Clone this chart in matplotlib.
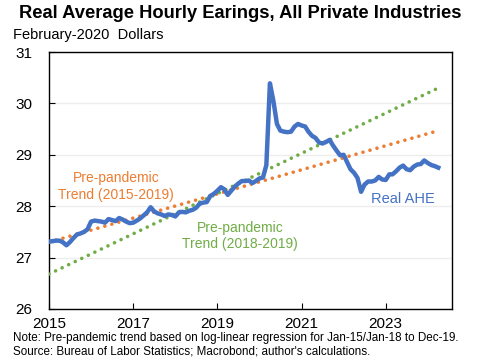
"""Real average hourly earnings vs pre-pandemic trends."""

import matplotlib
matplotlib.use("Agg")
import matplotlib.dates as mdates
import matplotlib.pyplot as plt
import pandas as pd

plt.rcParams["font.family"] = ["Liberation Sans", "DejaVu Sans"]

BLUE = "#4472C4"
ORANGE = "#ED7D31"
GREEN = "#70AD47"

# monthly, Jan-2015 .. Apr-2024, Feb-2020 dollars
months = pd.date_range("2015-01-01", "2024-04-01", freq="MS")
real_ahe = [
    27.31, 27.32, 27.33, 27.33, 27.30, 27.24, 27.30, 27.38, 27.45, 27.47, 27.50, 27.55,
    27.70, 27.72, 27.71, 27.70, 27.68, 27.75, 27.73, 27.71, 27.77, 27.74, 27.70, 27.67,
    27.68, 27.72, 27.76, 27.82, 27.88, 27.98, 27.90, 27.86, 27.84, 27.81, 27.84, 27.83,
    27.80, 27.88, 27.89, 27.88, 27.91, 27.93, 27.97, 28.05, 28.07, 28.08, 28.20, 28.24,
    28.30, 28.37, 28.33, 28.22, 28.30, 28.38, 28.44, 28.49, 28.49, 28.50, 28.45, 28.49,
    28.54, 28.56, 28.80, 30.39, 30.05, 29.60, 29.47, 29.45, 29.44, 29.45, 29.55, 29.60,
    29.57, 29.55, 29.45, 29.37, 29.33, 29.24, 29.22, 29.25, 29.29, 29.18, 29.08, 28.99,
    29.00, 28.85, 28.72, 28.65, 28.55, 28.28, 28.42, 28.48, 28.48, 28.50, 28.57, 28.52,
    28.51, 28.62, 28.62, 28.68, 28.75, 28.79, 28.72, 28.70, 28.77, 28.81, 28.82, 28.89,
    28.84, 28.80, 28.78, 28.75,
]

trend_dates = pd.to_datetime(["2015-01-01", "2024-04-01"])
trend_2015_2019 = [27.30, 29.47]
trend_2018_2019 = [26.68, 30.30]

tick_years = [2015, 2017, 2019, 2021, 2023]

fig = plt.figure(figsize=(4.8, 3.61), dpi=100)
ax = fig.add_axes([49 / 480, 1 - 309 / 361, 403 / 480, 257 / 361])

dots = dict(linestyle=(0, (0.01, 2.0)), linewidth=2.6, dash_capstyle="round")
ax.plot(trend_dates, trend_2015_2019, color=ORANGE, **dots, zorder=3)
ax.plot(trend_dates, trend_2018_2019, color=GREEN, **dots, zorder=3)
ax.plot(months, real_ahe, color=BLUE, linewidth=3.2, solid_joinstyle="round", zorder=4)

ax.set_xlim(pd.Timestamp("2015-01-01"), pd.Timestamp("2024-07-29"))
ax.set_ylim(26, 31)
ax.set_yticks(range(26, 32))
ax.set_xticks([pd.Timestamp(f"{y}-01-01") for y in tick_years])
ax.xaxis.set_major_formatter(mdates.DateFormatter("%Y"))
ax.grid(axis="y", color="#EDEDED", linewidth=1.0)
ax.set_axisbelow(True)
ax.tick_params(direction="in", length=4, width=0.8, labelsize=11, colors="black")
ax.tick_params(axis="y", pad=12)
ax.tick_params(axis="x", pad=6)
for s in ax.spines.values():
    s.set_linewidth(1.0)
    s.set_color("black")

ax.text(0.166, 0.477, "Pre-pandemic\nTrend (2015-2019)", transform=ax.transAxes,
        color=ORANGE, fontsize=10, ha="center", va="center", linespacing=1.25)
ax.text(0.474, 0.284, "Pre-pandemic\nTrend (2018-2019)", transform=ax.transAxes,
        color=GREEN, fontsize=10, ha="center", va="center", linespacing=1.25)
ax.text(0.877, 0.428, "Real AHE", transform=ax.transAxes,
        color=BLUE, fontsize=10.5, ha="center", va="center")

fig.text(0.5, 1 - 14 / 361, "Real Average Hourly Earings, All Private Industries",
         ha="center", va="center", fontsize=13.2, fontweight="bold")
fig.text(13 / 480, 1 - 35 / 361, "February-2020  Dollars", ha="left", va="center",
         fontsize=10.5)
fig.text(13 / 480, 1 - 338 / 361,
         "Note: Pre-pandemic trend based on log-linear regression for Jan-15/Jan-18 to Dec-19.",
         ha="left", va="center", fontsize=8.4)
fig.text(13 / 480, 1 - 352 / 361,
         "Source: Bureau of Labor Statistics; Macrobond; author's calculations.",
         ha="left", va="center", fontsize=8.4)

fig.savefig("out.png", dpi=100)
